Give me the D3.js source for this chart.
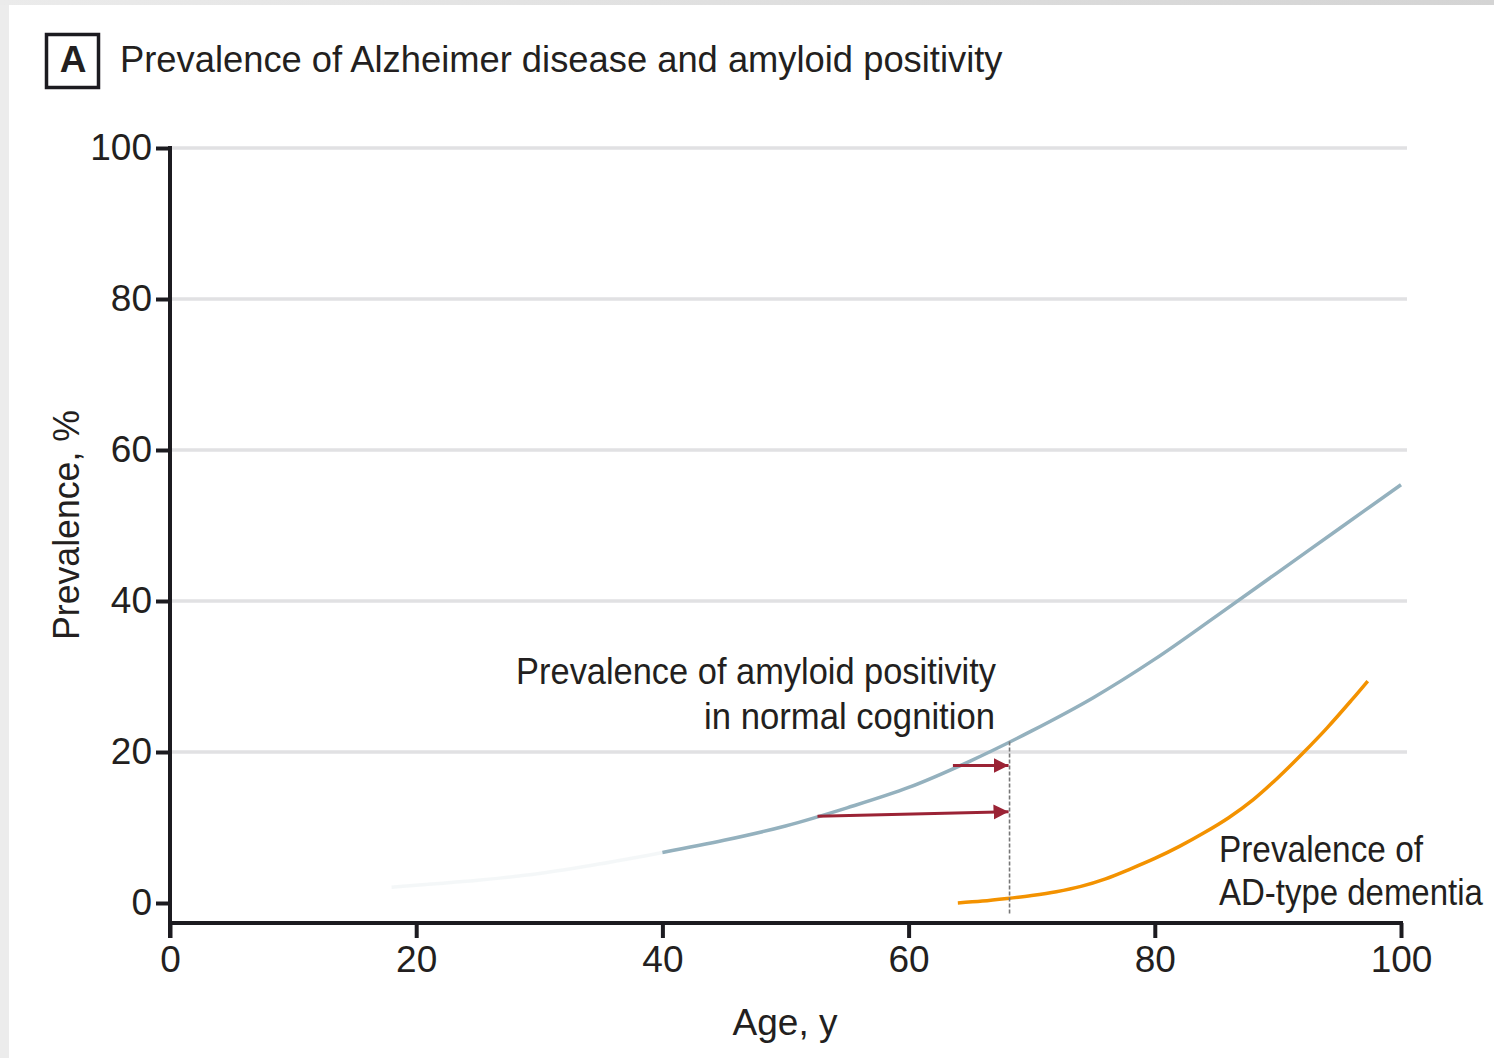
<!DOCTYPE html>
<html>
<head>
<meta charset="utf-8">
<script src="https://cdn.jsdelivr.net/npm/d3@7"></script>
<style>
  body { margin: 0; background: #fff; }
  svg { display: block; }
  text { font-family: "Liberation Sans Narrow", "Liberation Sans", Arial, sans-serif; fill: #231f20; }
</style>
</head>
<body>
<svg id="chart" width="1494" height="1058"></svg>
<script>
// values
const xTicks = [0, 20, 40, 60, 80, 100];
const yTicks = [0, 20, 40, 60, 80, 100];

// amyloid positivity, faint lead-in part
const fadedAge = [18, 25, 30, 35, 40];
const fadedPct = [2.1, 3.0, 3.9, 5.2, 6.7];

// amyloid positivity in normal cognition
const amyloidAge = [40, 45, 50, 55, 60, 65, 70, 75, 80, 85, 90, 95, 100];
const amyloidPct = [6.7, 8.3, 10.2, 12.6, 15.3, 18.8, 22.8, 27.2, 32.3, 38.0, 43.8, 49.6, 55.4];

// AD-type dementia
const dementiaAge = [64, 66, 68, 70, 72, 74, 76, 78, 80, 82, 84, 86, 88, 90, 92, 94, 96, 97.3];
const dementiaPct = [0.0, 0.25, 0.6, 1.0, 1.5, 2.2, 3.2, 4.5, 5.9, 7.5, 9.3, 11.3, 13.7, 16.6, 19.8, 23.2, 26.9, 29.4];

// dashed reference at age 68 and the two shift arrows
const refAge = 68.2;
const refTop = 21.4;
const refBottom = -1.6;
const arrowFromAge = [63.6, 52.6];
const arrowFromPct = [18.2, 11.5];
const arrowToPct = [18.2, 12.1];

const svg = d3.select("#chart");
const W = +svg.attr("width"), H = +svg.attr("height");

// page frame
svg.append("rect").attr("width", W).attr("height", H).attr("fill", "#fff");
const defs = svg.append("defs");
const topGrad = defs.append("linearGradient").attr("id", "topGrad");
topGrad.append("stop").attr("offset", "0%").attr("stop-color", "#ebebeb");
topGrad.append("stop").attr("offset", "100%").attr("stop-color", "#d4d4d4");
svg.append("rect").attr("width", 9).attr("height", H).attr("fill", "#ececec");
svg.append("rect").attr("width", W).attr("height", 5).attr("fill", "url(#topGrad)");

const x = d3.scaleLinear().domain([0, 100]).range([170, 1401]);
const y = d3.scaleLinear().domain([0, 100]).range([903, 148]);
const axisY = 923;

// gridlines
svg.append("g").selectAll("line")
    .data(yTicks.filter(d => d > 0))
    .join("line")
    .attr("x1", x(0) + 2).attr("x2", x(100) + 6)
    .attr("y1", d => y(d)).attr("y2", d => y(d))
    .attr("stroke", "#e1e1e3")
    .attr("stroke-width", 3.5);

// axes
const yAxis = svg.append("g")
    .attr("transform", `translate(${x(0)},0)`)
    .call(d3.axisLeft(y).tickValues(yTicks).tickSize(14).tickPadding(4));
const xAxis = svg.append("g")
    .attr("transform", `translate(0,${axisY})`)
    .call(d3.axisBottom(x).tickValues(xTicks).tickSize(15).tickPadding(8));

[yAxis, xAxis].forEach(g => {
    g.select(".domain").remove();
    g.selectAll(".tick line").attr("stroke", "#1c1b20").attr("stroke-width", 4);
    g.selectAll(".tick text")
        .style("font-family", "'Liberation Sans Narrow', 'Liberation Sans', Arial, sans-serif")
        .style("font-size", "37px")
        .attr("fill", "#231f20");
});

svg.append("line")
    .attr("x1", x(0)).attr("x2", x(0))
    .attr("y1", y(100) - 2).attr("y2", axisY + 15)
    .attr("stroke", "#1c1b20").attr("stroke-width", 4);
svg.append("line")
    .attr("x1", x(0)).attr("x2", x(100) + 2)
    .attr("y1", axisY).attr("y2", axisY)
    .attr("stroke", "#1c1b20").attr("stroke-width", 4);

// curves
const line = d3.line()
    .x(d => x(d[0]))
    .y(d => y(d[1]))
    .curve(d3.curveCatmullRom.alpha(0.5));

svg.append("path")
    .attr("d", line(d3.zip(fadedAge, fadedPct)))
    .attr("fill", "none")
    .attr("stroke", "#94b1be")
    .attr("stroke-opacity", 0.1)
    .attr("stroke-width", 3.5);

svg.append("path")
    .attr("d", line(d3.zip(amyloidAge, amyloidPct)))
    .attr("fill", "none")
    .attr("stroke", "#94b1be")
    .attr("stroke-width", 3.5);

svg.append("path")
    .attr("d", line(d3.zip(dementiaAge, dementiaPct)))
    .attr("fill", "none")
    .attr("stroke", "#f39200")
    .attr("stroke-width", 3.5);

// dashed reference line
svg.append("line")
    .attr("x1", x(refAge)).attr("x2", x(refAge))
    .attr("y1", y(refTop)).attr("y2", y(refBottom))
    .attr("stroke", "#777")
    .attr("stroke-width", 1.6)
    .attr("stroke-dasharray", "4,2");

// arrows
defs.append("marker")
    .attr("id", "arrowHead")
    .attr("markerUnits", "userSpaceOnUse")
    .attr("markerWidth", 16).attr("markerHeight", 16)
    .attr("refX", 15).attr("refY", 7.5)
    .attr("orient", "auto")
    .append("path")
    .attr("d", "M0,0L15,7.5L0,15Z")
    .attr("fill", "#9b2335");

svg.append("g").selectAll("line")
    .data(arrowFromAge.map((a, i) => ({ a, p0: arrowFromPct[i], p1: arrowToPct[i] })))
    .join("line")
    .attr("x1", d => x(d.a)).attr("y1", d => y(d.p0))
    .attr("x2", x(refAge) - 1).attr("y2", d => y(d.p1))
    .attr("stroke", "#9b2335")
    .attr("stroke-width", 3)
    .attr("marker-end", "url(#arrowHead)");

// labels: squeeze each one horizontally to the width seen in the figure
const FS = "37px";
function label(str, px, py, width, anchor = "start", rot = 0) {
    const t = svg.append("text")
        .attr("text-anchor", anchor)
        .style("font-size", FS)
        .text(str);
    const sx = width / t.node().getComputedTextLength();
    t.attr("transform", `translate(${px},${py}) rotate(${rot}) scale(${sx},1)`);
    return t;
}

svg.append("rect")
    .attr("x", 46.5).attr("y", 34.5).attr("width", 52).attr("height", 53)
    .attr("fill", "none").attr("stroke", "#1c1b20").attr("stroke-width", 3.5);
svg.append("text")
    .attr("x", 73).attr("y", 72).attr("text-anchor", "middle")
    .style("font-size", FS).style("font-weight", "bold")
    .text("A");

label("Prevalence of Alzheimer disease and amyloid positivity", 120, 72, 883);
label("Prevalence of amyloid positivity", 996, 684, 480, "end");
label("in normal cognition", 995, 729, 291, "end");
label("Prevalence of", 1219, 862, 204);
label("AD-type dementia", 1219, 905, 264);
label("Age, y", 785, 1035, 105, "middle");
label("Prevalence, %", 79, 525, 230, "middle", -90);
</script>
</body>
</html>
